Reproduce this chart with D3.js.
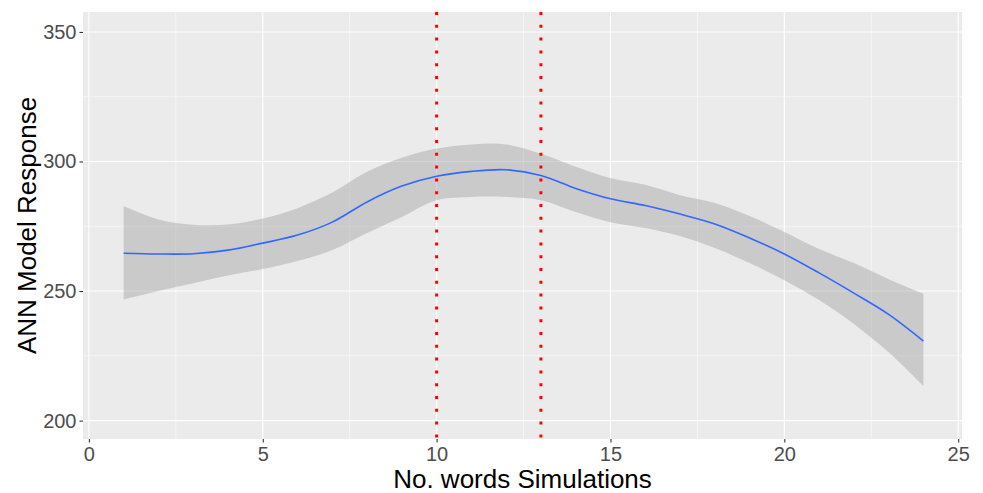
<!DOCTYPE html>
<html>
<head>
<meta charset="utf-8">
<script src="https://cdn.jsdelivr.net/npm/d3@7"></script>
<style>
  body { margin: 0; background: #fff; }
  svg { display: block; font-family: "Liberation Sans", Arial, sans-serif; }
</style>
</head>
<body>
<svg id="chart" width="983" height="493"></svg>
<script>
// smoothed fit
const xs    = [1, 2, 3, 4, 5, 6, 7, 8, 9, 10, 11, 12, 13, 14, 15, 16, 17, 18, 19, 20, 21, 22, 23, 24];
const fit   = [264.6, 264.3, 264.4, 265.8, 268.5, 271.6, 276.6, 284.4, 290.5, 294.3, 296.2, 296.8, 294.6, 289.6, 285.6, 283.0, 279.7, 275.9, 270.5, 264.3, 257.0, 249.2, 241.0, 230.7];
const upper = [282.8, 277.6, 275.6, 275.7, 278.0, 282.0, 288.0, 296.0, 301.4, 305.0, 306.6, 306.6, 303.0, 298.0, 293.6, 291.0, 287.0, 284.0, 279.0, 272.8, 266.2, 260.8, 254.6, 249.0];
const lower = [246.7, 250.0, 253.0, 256.0, 258.5, 261.6, 265.8, 272.4, 278.6, 285.0, 286.3, 286.3, 285.0, 280.5, 276.6, 274.3, 271.2, 266.6, 260.8, 254.2, 246.5, 237.3, 226.4, 213.4];
const vlines = [10, 13];
const xTicks = [0, 5, 10, 15, 20, 25];
const yTicks = [200, 250, 300, 350];
const xMinor = [2.5, 7.5, 12.5, 17.5, 22.5];
const yMinor = [225, 275, 325];

const data = xs.map((x, i) => ({x: x, y: fit[i], lo: lower[i], hi: upper[i]}));

const margin = {top: 12, right: 21, bottom: 54, left: 83};
const width = 983 - margin.left - margin.right,
      height = 493 - margin.top - margin.bottom;

const svg = d3.select('#chart');
const g = svg.append('g').attr('transform', `translate(${margin.left},${margin.top})`);

const x = d3.scaleLinear().domain([-0.17, 25.11]).range([0, width]);
const y = d3.scaleLinear().domain([192.9, 357.7]).range([height, 0]);

// panel
g.append('rect').attr('width', width).attr('height', height).attr('fill', '#ebebeb');

// minor grid
g.selectAll('line.xminor').data(xMinor).enter().append('line')
  .attr('x1', d => x(d)).attr('x2', d => x(d)).attr('y1', 0).attr('y2', height)
  .attr('stroke', '#fff').attr('stroke-width', 0.55);
g.selectAll('line.yminor').data(yMinor).enter().append('line')
  .attr('x1', 0).attr('x2', width).attr('y1', d => y(d)).attr('y2', d => y(d))
  .attr('stroke', '#fff').attr('stroke-width', 0.55);

// major grid
g.selectAll('line.xmajor').data(xTicks).enter().append('line')
  .attr('x1', d => x(d)).attr('x2', d => x(d)).attr('y1', 0).attr('y2', height)
  .attr('stroke', '#fff').attr('stroke-width', 1.1);
g.selectAll('line.ymajor').data(yTicks).enter().append('line')
  .attr('x1', 0).attr('x2', width).attr('y1', d => y(d)).attr('y2', d => y(d))
  .attr('stroke', '#fff').attr('stroke-width', 1.1);

// confidence band
const area = d3.area()
  .x(d => x(d.x)).y0(d => y(d.lo)).y1(d => y(d.hi))
  .curve(d3.curveCatmullRom);
g.append('path').datum(data)
  .attr('fill', '#999999').attr('fill-opacity', 0.4)
  .attr('d', area);

// fitted line
const line = d3.line().x(d => x(d.x)).y(d => y(d.y)).curve(d3.curveCatmullRom);
g.append('path').datum(data)
  .attr('fill', 'none').attr('stroke', '#3366FF').attr('stroke-width', 1.6)
  .attr('d', line);

// red dotted lines
g.selectAll('line.vline').data(vlines).enter().append('line')
  .attr('x1', d => x(d)).attr('x2', d => x(d)).attr('y1', 0).attr('y2', height)
  .attr('stroke', '#ff0000').attr('stroke-width', 3)
  .attr('stroke-dasharray', '3,9.8');

// axes
const xAxis = g.append('g')
  .attr('transform', `translate(0,${height})`)
  .call(d3.axisBottom(x).tickValues(xTicks).tickSize(3.5).tickPadding(4));
const yAxis = g.append('g')
  .call(d3.axisLeft(y).tickValues(yTicks).tickSize(3.5).tickPadding(3));
[xAxis, yAxis].forEach(a => {
  a.select('.domain').remove();
  a.selectAll('.tick line').attr('stroke', '#333').attr('stroke-width', 1.1);
  a.selectAll('.tick text').attr('fill', '#4d4d4d').style('font-size', '20px')
    .style('font-family', '"Liberation Sans", Arial, sans-serif');
});

// axis titles
svg.append('text')
  .attr('x', margin.left + width / 2).attr('y', 488)
  .attr('text-anchor', 'middle').attr('fill', '#000')
  .style('font-size', '26px')
  .text('No. words Simulations');

svg.append('text')
  .attr('transform', `translate(36,${margin.top + height / 2}) rotate(-90)`)
  .attr('text-anchor', 'middle').attr('fill', '#000')
  .style('font-size', '26px')
  .text('ANN Model Response');
</script>
</body>
</html>
